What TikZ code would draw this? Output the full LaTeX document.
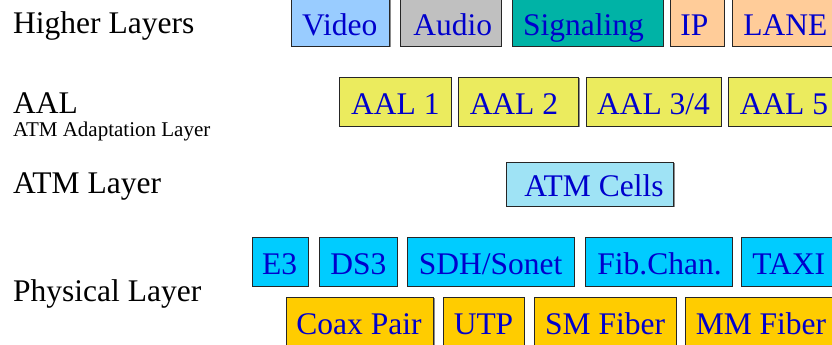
\documentclass[tikz,border=0pt]{standalone}
\usepackage{fontspec}
\setmainfont{Liberation Serif}
\usepackage{tikz}
\usetikzlibrary{shadows}
\definecolor{videoblue}{HTML}{99CCFF}
\definecolor{audiogray}{HTML}{C0C0C0}
\definecolor{sigteal}{HTML}{00B3A6}
\definecolor{peach}{HTML}{FFCC99}
\definecolor{aalyellow}{HTML}{EBEB5E}
\definecolor{cellblue}{HTML}{9FE3F5}
\definecolor{phycyan}{HTML}{00CCFF}
\definecolor{mediagold}{HTML}{FFCC00}
\definecolor{textblue}{HTML}{0000CC}
\tikzstyle{unitbox}=[draw=black!85,line width=0.9pt,anchor=north west,inner xsep=0pt,inner ysep=2pt,
    text height=25pt,text depth=0pt,text=textblue,
    font=\fontsize{31.5}{36}\selectfont,
    drop shadow={shadow xshift=1pt,shadow yshift=-1pt,fill=black!45,opacity=1}]
\tikzstyle{layername}=[anchor=base west,inner sep=0pt,font=\fontsize{31.5}{36}\selectfont]
\newcommand{\padded}[3]{\makebox[#1pt][l]{\hspace*{#2pt}#3}}

\begin{document}
\begin{tikzpicture}[x=1pt,y=-1pt]
    \path[use as bounding box,fill=white] (0,0) rectangle (832,345);
    % First we write the layer names on the left
    \node[layername] (higher) at (13,33.3) {Higher Layers};
    \node[layername] (aal) at (13,113.3) {AAL};
    \node[layername,font=\fontsize{21}{24}\selectfont] (aalfull) at (13,136.7) {ATM Adaptation Layer};
    \node[layername] (atm) at (13,193.3) {ATM Layer};
    \node[layername] (physical) at (13,301.7) {Physical Layer};
    % Higher layers
    \foreach \x/\w/\p/\name/\txt/\col in {290.7/98.6/11/video/Video/videoblue, 400/101/13/audio/Audio/audiogray,
        512.3/150.4/10.4/signaling/Signaling/sigteal, 670.3/53.4/9.7/ip/IP/peach, 732.3/120/10.7/lane/LANE/peach}
        \node[unitbox,fill=\col,minimum height=47pt] (\name) at (\x,-1) {\padded{\w}{\p}{\txt}};
    % Adaptation layers
    \foreach \x/\w/\p/\name/\txt in {339.3/111.4/11.4/aalone/AAL 1, 458.3/120/11/aaltwo/AAL 2,
        585.7/135.3/11/aalthree/{AAL 3/4}, 728.3/120/11/aalfive/AAL 5}
        \node[unitbox,fill=aalyellow,minimum height=49pt] (\name) at (\x,77) {\padded{\w}{\p}{\txt}};
    % ATM layer
    \node[unitbox,fill=cellblue,minimum height=44pt] (cells) at (505.7,161.7) {\padded{167.6}{18.3}{ATM Cells}};
    % Physical layer, framing row
    \foreach \x/\w/\p/\name/\txt in {251.7/56/10/ethree/E3, 319.3/77.4/10.7/dsthree/DS3, 407.3/166.4/11/sdh/{SDH/Sonet},
        585.3/146.7/11.7/fibchan/Fib.Chan., 741.3/120/10.7/taxi/TAXI}
        \node[unitbox,fill=phycyan,minimum height=48.7pt] (\name) at (\x,237.3) {\padded{\w}{\p}{\txt}};
    % Physical layer, media row
    \foreach \x/\w/\p/\name/\txt in {285.7/147.6/10.3/coax/Coax Pair, 443.3/80.7/10/utp/UTP,
        533.5/142.5/11.2/smfiber/SM Fiber, 685.3/160/10/mmfiber/MM Fiber}
        \node[unitbox,fill=mediagold,minimum height=49pt] (\name) at (\x,296.7) {\padded{\w}{\p}{\txt}};
\end{tikzpicture}
\end{document}
